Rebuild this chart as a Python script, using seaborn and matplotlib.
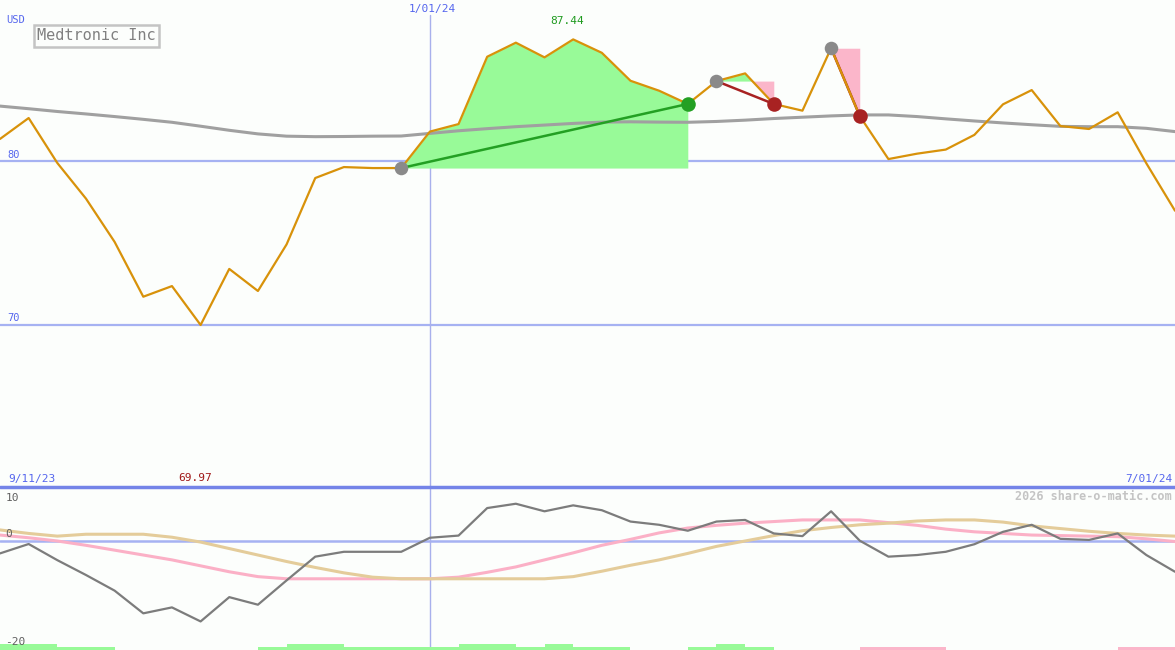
import numpy as np
import pandas as pd
import matplotlib
matplotlib.use('Agg')
import matplotlib.pyplot as plt
import seaborn as sns

# weekly closes, Medtronic, 9/11/23 .. 7/01/24
price = [81.35, 82.63, 79.88, 77.7, 75.05, 71.7, 72.35, 69.97, 73.4, 72.05,
         74.9, 78.96, 79.63, 79.57, 79.57, 81.8, 82.26, 86.38, 87.24, 86.34,
         87.44, 86.62, 84.91, 84.3, 83.49, 84.89, 85.36, 83.49, 83.08, 86.9,
         82.75, 80.12, 80.45, 80.7, 81.6, 83.47, 84.34, 82.14, 81.96, 82.98,
         79.86, 76.96]
ma_main = [83.36, 83.2, 83.03, 82.88, 82.72, 82.55, 82.37, 82.13, 81.88, 81.66,
           81.52, 81.49, 81.5, 81.52, 81.53, 81.69, 81.85, 81.98, 82.1, 82.2,
           82.3, 82.38, 82.4, 82.38, 82.37, 82.42, 82.5, 82.6, 82.68, 82.76,
           82.82, 82.82, 82.72, 82.58, 82.45, 82.33, 82.22, 82.12, 82.1, 82.1,
           82.0, 81.8]

# lower panel oscillators
osc_gray = [-2.3, -0.56, -3.55, -6.3, -9.2, -13.4, -12.3, -14.9, -10.4, -11.8,
            -7.3, -2.9, -2.0, -2.0, -2.0, 0.6, 1.0, 6.1, 6.9, 5.5,
            6.6, 5.7, 3.6, 3.0, 1.9, 3.6, 3.9, 1.4, 0.9, 5.5,
            0.06, -2.9, -2.6, -2.0, -0.6, 1.7, 3.0, 0.4, 0.2, 1.4,
            -2.6, -5.7]
osc_pink = [1.1, 0.6, 0.0, -0.8, -1.7, -2.6, -3.5, -4.6, -5.7, -6.6,
            -7.0, -7.0, -7.0, -7.0, -7.0, -7.0, -6.7, -5.8, -4.8, -3.5,
            -2.2, -0.8, 0.3, 1.5, 2.4, 2.9, 3.3, 3.6, 3.9, 3.9,
            3.9, 3.4, 2.9, 2.2, 1.7, 1.4, 1.1, 1.0, 0.9, 0.8,
            0.4, -0.1]
osc_tan = [2.05, 1.4, 0.9, 1.25, 1.25, 1.25, 0.7, -0.2, -1.4, -2.6,
           -3.8, -4.9, -5.9, -6.7, -7.0, -7.0, -7.0, -7.0, -7.0, -7.0,
           -6.6, -5.6, -4.5, -3.5, -2.3, -1.0, 0.0, 1.0, 1.9, 2.5,
           3.0, 3.3, 3.7, 3.9, 3.9, 3.5, 2.8, 2.3, 1.8, 1.4,
           1.1, 0.9]
# signal strip: 2 strong buy, 1 buy, -1 sell, 0 none (one per week interval)
signal = [2, 2, 1, 1, 0, 0, 0, 0, 0, 1,
          2, 2, 1, 1, 1, 1, 2, 2, 1, 2,
          1, 1, 0, 0, 1, 2, 1, 0, 0, 0,
          -1, -1, -1, 0, 0, 0, 0, 0, 0, -1,
          -1]

date_labels = ['9/11/23', '1/01/24', '7/01/24']
date_idx = [0, 15, 41]

trade_entry = [14, 25, 29]
trade_exit = [24, 27, 30]

ORANGE = '#d8920a'
BLUE_TXT = '#5566ee'
GRID = '#a6b2f2'
GREEN_FILL = '#98fa98'
PINK_FILL = '#fbb6ca'
BG = '#fcfefc'

sns.set_theme(style='white')
plt.rcParams['font.family'] = ['DejaVu Sans Mono', 'DejaVu Sans']

W, H = 1175, 650
fig = plt.figure(figsize=(W / 100, H / 100), dpi=100, facecolor=BG)
ax = fig.add_axes([0, 163 / H, 1, 487 / H], facecolor=BG)
ax2 = fig.add_axes([0, 0, 1, 163 / H], facecolor=BG)

x = np.arange(len(price))
df = pd.DataFrame({'x': x, 'price': price, 'ma': ma_main,
                   'g': osc_gray, 'p': osc_pink, 't': osc_tan})

# ---- main panel ----
ax.set_xlim(0, len(price) - 1)
ax.set_ylim(60.06, 89.85)
for lvl in [80, 70]:
    ax.axhline(lvl, color=GRID, lw=1.6, zorder=1)
    ax.annotate(str(lvl), xy=(0, lvl), xycoords=('axes fraction', 'data'),
                xytext=(5, 1), textcoords='offset points', fontsize=7.5,
                color=BLUE_TXT, va='bottom')
ax.axvline(date_idx[1], ymax=1 - 15 / 487, color='#a8b0ec', lw=1, zorder=1)

# trade shading
pr = np.array(price)
for e, q in zip(trade_entry, trade_exit):
    xs = x[e:q + 1]
    ys = pr[e:q + 1]
    lvl = pr[e]
    ax.fill_between(xs, ys, lvl, where=ys >= lvl, interpolate=True,
                    color=GREEN_FILL, lw=0, zorder=2)
    ax.fill_between(xs, ys, lvl, where=ys < lvl, interpolate=True,
                    color=PINK_FILL, lw=0, zorder=2)

sns.lineplot(data=df, x='x', y='ma', ax=ax, color='#a0a0a0', lw=2.2, zorder=3)

for e, q in zip(trade_entry, trade_exit):
    win = price[q] > price[e]
    c = '#23a023' if win else '#a82222'
    ax.plot([e, q], [price[e], price[q]], color=c, lw=1.8, zorder=3.5)

sns.lineplot(data=df, x='x', y='price', ax=ax, color=ORANGE, lw=1.6, zorder=4)

for e, q in zip(trade_entry, trade_exit):
    win = price[q] > price[e]
    c = '#23a023' if win else '#a82222'
    sns.scatterplot(x=[e], y=[price[e]], ax=ax, color='#8a8a8a', s=95,
                    linewidth=0, zorder=6)
    sns.scatterplot(x=[q], y=[price[q]], ax=ax, color=c, s=110,
                    linewidth=0, zorder=6)

imax = int(np.argmax(price))
imin = int(np.argmin(price))
ax.annotate(f'{price[imax]:.2f}', xy=(imax, price[imax]), xytext=(-4, 10),
            textcoords='offset points', ha='center', va='bottom', fontsize=8,
            color='#1e9a1e')
ax.annotate(f'{price[imin]:.2f}', xy=(imin, 0), xycoords=('data', 'axes fraction'),
            xytext=(-4, 3), textcoords='offset points', ha='center', va='bottom',
            fontsize=8, color='#a01818')
for lab, i in zip(date_labels, date_idx):
    if i == 0:
        ax.annotate(lab, xy=(i, 0), xycoords=('data', 'axes fraction'), xytext=(6, 2),
                    textcoords='offset points', ha='left', va='bottom',
                    fontsize=8, color=BLUE_TXT)
    elif i == len(price) - 1:
        ax.annotate(lab, xy=(i, 0), xycoords=('data', 'axes fraction'), xytext=(-2, 2),
                    textcoords='offset points', ha='right', va='bottom',
                    fontsize=8, color=BLUE_TXT)
    else:
        ax.annotate(lab, xy=(i, 1), xycoords=('data', 'axes fraction'), xytext=(2, -3),
                    textcoords='offset points', ha='center', va='top',
                    fontsize=8, color=BLUE_TXT)

ax.text(6 / W, 1 - 20 / 487, 'USD', transform=ax.transAxes, fontsize=7.5,
        color=BLUE_TXT, va='center', ha='left')
ax.text(37 / W, 1 - 36 / 487, 'Medtronic Inc', transform=ax.transAxes,
        fontsize=11, color='#808080', va='center', ha='left',
        bbox=dict(boxstyle='square,pad=0.22', fc='none', ec='#c4c4c4', lw=1.8))

# ---- lower panel ----
ax2.set_xlim(0, len(price) - 1)
ax2.set_ylim(-20.19, 10)
ax2.axhline(0, color=GRID, lw=1.8, zorder=1)
ax2.axhline(10, color='#7484e8', lw=2.5, zorder=5, clip_on=False)
ax2.axvline(date_idx[1], color='#a8b0ec', lw=1, zorder=1)

bottom = -20.19
hts = [1.15 if abs(s) == 2 else 0.55 for s in signal]
cols = [GREEN_FILL if s > 0 else PINK_FILL for s in signal]
for i, (s, h, c) in enumerate(zip(signal, hts, cols)):
    if s != 0:
        ax2.bar(i, h, width=1, bottom=bottom, align='edge', color=c, lw=0, zorder=2)

sns.lineplot(data=df, x='x', y='p', ax=ax2, color='#fbb0c6', lw=2.2, zorder=3)
sns.lineplot(data=df, x='x', y='t', ax=ax2, color='#e4cc9a', lw=2.2, zorder=3)
sns.lineplot(data=df, x='x', y='g', ax=ax2, color='#7c7c7c', lw=1.6, zorder=4)

for lab, v, dy in [('10', 10, -8), ('0', 0, 5), ('-20', -20, 5)]:
    ax2.annotate(lab, xy=(0, v), xycoords=('axes fraction', 'data'),
                 xytext=(4, dy), textcoords='offset points', fontsize=8,
                 color='#606060', va='center', ha='left')
ax2.text(1 - 3 / W, 1 - 9 / 163, '2026 share-o-matic.com', transform=ax2.transAxes,
         fontsize=8.5, fontweight='bold', color='#c4c4c4', ha='right', va='center')

for a in (ax, ax2):
    a.set_xlabel('')
    a.set_ylabel('')
    a.set_xticks([])
    a.set_yticks([])
    for sp in a.spines.values():
        sp.set_visible(False)
    if a.get_legend() is not None:
        a.get_legend().remove()

fig.savefig('out.png', dpi=100, facecolor=BG)
